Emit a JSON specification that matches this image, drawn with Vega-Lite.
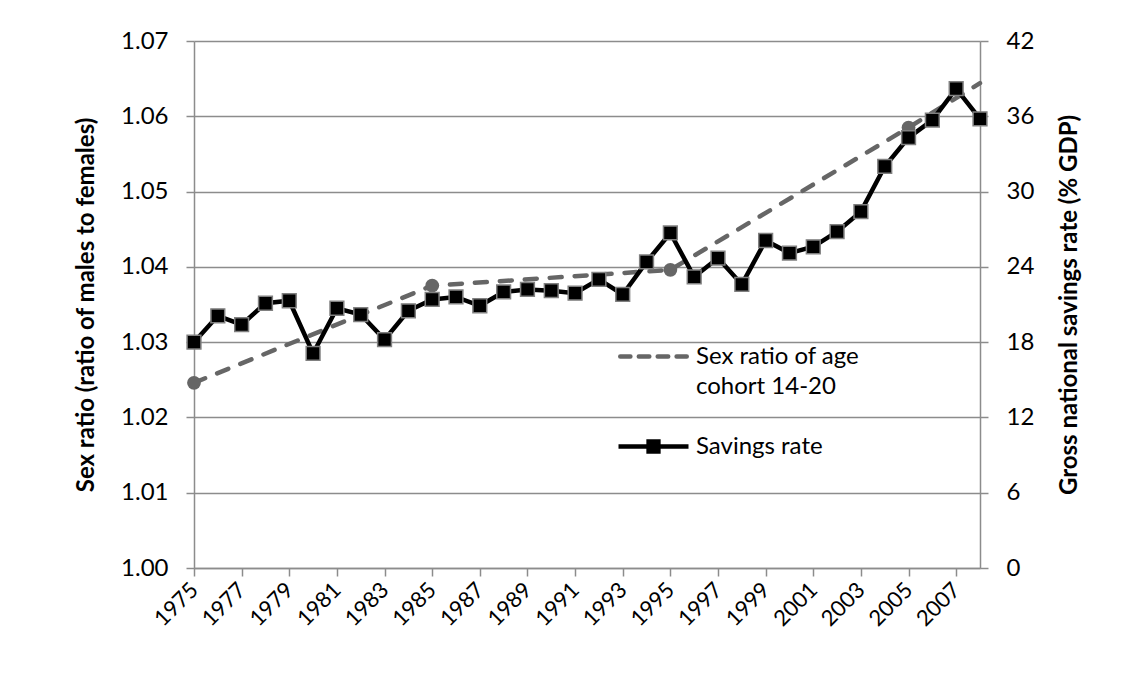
{
  "$schema": "https://vega.github.io/schema/vega-lite/v6.json",
  "width": 786,
  "height": 527,
  "autosize": {"type": "none"},
  "padding": {"left": 194, "top": 41, "right": 142, "bottom": 123},
  "background": "white",
  "config": {
    "font": "Lato",
    "view": {"stroke": null},
    "axis": {
      "labelFont": "Lato",
      "labelFontSize": 24,
      "labelColor": "black",
      "titleFont": "Lato",
      "titleFontSize": 24,
      "titleFontWeight": "bold",
      "titleColor": "black",
      "domainColor": "#8c8c8c",
      "domainWidth": 1.5,
      "tickColor": "#8c8c8c",
      "tickWidth": 1.5,
      "tickSize": 8,
      "gridColor": "#8c8c8c",
      "gridWidth": 1.5
    }
  },
  "data": {
    "values": [
      {"year": 1975, "series": "Sex ratio", "value": 1.0246},
      {"year": 1985, "series": "Sex ratio", "value": 1.0375},
      {"year": 1995, "series": "Sex ratio", "value": 1.0396},
      {"year": 2005, "series": "Sex ratio", "value": 1.0585},
      {"year": 2008, "series": "Sex ratio", "value": 1.0644},
      {"year": 1975, "series": "Savings rate", "value": 18.0},
      {"year": 1976, "series": "Savings rate", "value": 20.1},
      {"year": 1977, "series": "Savings rate", "value": 19.4},
      {"year": 1978, "series": "Savings rate", "value": 21.1},
      {"year": 1979, "series": "Savings rate", "value": 21.3},
      {"year": 1980, "series": "Savings rate", "value": 17.1},
      {"year": 1981, "series": "Savings rate", "value": 20.7},
      {"year": 1982, "series": "Savings rate", "value": 20.2},
      {"year": 1983, "series": "Savings rate", "value": 18.2},
      {"year": 1984, "series": "Savings rate", "value": 20.5},
      {"year": 1985, "series": "Savings rate", "value": 21.4},
      {"year": 1986, "series": "Savings rate", "value": 21.6},
      {"year": 1987, "series": "Savings rate", "value": 20.9},
      {"year": 1988, "series": "Savings rate", "value": 22.0},
      {"year": 1989, "series": "Savings rate", "value": 22.2},
      {"year": 1990, "series": "Savings rate", "value": 22.1},
      {"year": 1991, "series": "Savings rate", "value": 21.9},
      {"year": 1992, "series": "Savings rate", "value": 23.0},
      {"year": 1993, "series": "Savings rate", "value": 21.8},
      {"year": 1994, "series": "Savings rate", "value": 24.4},
      {"year": 1995, "series": "Savings rate", "value": 26.7},
      {"year": 1996, "series": "Savings rate", "value": 23.2},
      {"year": 1997, "series": "Savings rate", "value": 24.7},
      {"year": 1998, "series": "Savings rate", "value": 22.6},
      {"year": 1999, "series": "Savings rate", "value": 26.1},
      {"year": 2000, "series": "Savings rate", "value": 25.1},
      {"year": 2001, "series": "Savings rate", "value": 25.6},
      {"year": 2002, "series": "Savings rate", "value": 26.8},
      {"year": 2003, "series": "Savings rate", "value": 28.4},
      {"year": 2004, "series": "Savings rate", "value": 32.0},
      {"year": 2005, "series": "Savings rate", "value": 34.3},
      {"year": 2006, "series": "Savings rate", "value": 35.7},
      {"year": 2007, "series": "Savings rate", "value": 38.2},
      {"year": 2008, "series": "Savings rate", "value": 35.8}
    ]
  },
  "encoding": {
    "x": {
      "field": "year",
      "type": "quantitative",
      "scale": {"domain": [1975, 2008], "nice": false, "zero": false},
      "axis": {
        "title": null,
        "values": [1975, 1977, 1979, 1981, 1983, 1985, 1987, 1989, 1991, 1993, 1995, 1997, 1999, 2001, 2003, 2005, 2007],
        "format": "d",
        "labelAngle": -45,
        "labelAlign": "right",
        "labelBaseline": "middle",
        "labelFontSize": 22,
        "labelPadding": 10,
        "grid": false,
        "labelOverlap": false
      }
    }
  },
  "layer": [
    {
      "transform": [{"filter": "datum.series === 'Sex ratio'"}],
      "encoding": {
        "y": {
          "field": "value",
          "type": "quantitative",
          "scale": {"domain": [1.0, 1.07], "nice": false, "zero": false},
          "axis": {
            "orient": "left",
            "title": "Sex ratio (ratio of males to females)",
            "values": [1.0, 1.01, 1.02, 1.03, 1.04, 1.05, 1.06, 1.07],
            "format": ".2f",
            "grid": true,
            "labelPadding": 18,
            "titlePadding": 22
          }
        }
      },
      "layer": [
        {
          "mark": {"type": "line", "strokeDash": [12, 13], "strokeWidth": 4.5, "strokeCap": "round"},
          "encoding": {
            "color": {
              "field": "series",
              "type": "nominal",
              "scale": {"domain": ["Sex ratio", "Savings rate"], "range": ["#666666", "#000000"]},
              "legend": {
                "title": null,
                "orient": "none",
                "legendX": 422,
                "legendY": 278,
                "padding": 0,
                "symbolSize": 4900,
                "symbolStrokeWidth": 4.5,
                "labelFont": "Lato",
                "labelFontSize": 24,
                "labelColor": "black",
                "labelOffset": 5,
                "labelLimit": 400,
                "rowPadding": 10,
                "labelExpr": "datum.value === 'Sex ratio' ? ['Sex ratio of age', 'cohort 14-20'] : datum.label",
                "encode": {
                  "symbols": {
                    "update": {
                      "shape": {"signal": "datum.value === 'Sex ratio' ? 'M-0.95,0H-0.66M-0.42,0H-0.12M0.12,0H0.42M0.66,0H0.95' : 'M-1,0H1M-0.14,-0.14H0.14V0.14H-0.14Z'"},
                      "fill": {"signal": "datum.value === 'Sex ratio' ? 'transparent' : 'black'"},
                      "strokeDash": {"value": [1, 0]},
                      "strokeCap": {"signal": "datum.value === 'Sex ratio' ? 'round' : 'butt'"}
                    }
                  },
                  "labels": {"update": {"lineHeight": {"value": 30}}}
                }
              }
            }
          }
        },
        {
          "transform": [{"filter": "datum.year < 2008"}],
          "mark": {"type": "circle", "color": "#666666", "size": 190, "opacity": 1}
        }
      ]
    },
    {
      "transform": [{"filter": "datum.series === 'Savings rate'"}],
      "encoding": {
        "y": {
          "field": "value",
          "type": "quantitative",
          "scale": {"domain": [0, 42], "nice": false},
          "axis": {
            "orient": "right",
            "title": "Gross national savings rate (% GDP)",
            "titleAngle": -90,
            "values": [0, 6, 12, 18, 24, 30, 36, 42],
            "grid": false,
            "labelPadding": 18,
            "titlePadding": 48
          }
        }
      },
      "layer": [
        {
          "mark": {"type": "line", "strokeWidth": 4.5},
          "encoding": {
            "color": {
              "field": "series",
              "type": "nominal",
              "scale": {"domain": ["Sex ratio", "Savings rate"], "range": ["#666666", "#000000"]},
              "legend": {
                "title": null,
                "orient": "none",
                "legendX": 422,
                "legendY": 278,
                "padding": 0,
                "symbolSize": 4900,
                "symbolStrokeWidth": 4.5,
                "labelFont": "Lato",
                "labelFontSize": 24,
                "labelColor": "black",
                "labelOffset": 5,
                "labelLimit": 400,
                "rowPadding": 10,
                "labelExpr": "datum.value === 'Sex ratio' ? ['Sex ratio of age', 'cohort 14-20'] : datum.label",
                "encode": {
                  "symbols": {
                    "update": {
                      "shape": {"signal": "datum.value === 'Sex ratio' ? 'M-0.95,0H-0.66M-0.42,0H-0.12M0.12,0H0.42M0.66,0H0.95' : 'M-1,0H1M-0.14,-0.14H0.14V0.14H-0.14Z'"},
                      "fill": {"signal": "datum.value === 'Sex ratio' ? 'transparent' : 'black'"},
                      "strokeDash": {"value": [1, 0]},
                      "strokeCap": {"signal": "datum.value === 'Sex ratio' ? 'round' : 'butt'"}
                    }
                  },
                  "labels": {"update": {"lineHeight": {"value": 30}}}
                }
              }
            }
          }
        },
        {
          "mark": {"type": "square", "filled": true, "color": "black", "stroke": "#808080", "strokeWidth": 1.5, "size": 190, "opacity": 1}
        }
      ]
    }
  ],
  "resolve": {"scale": {"y": "independent"}}
}
